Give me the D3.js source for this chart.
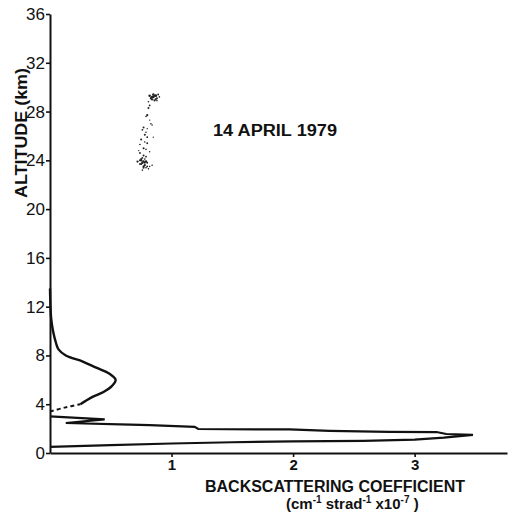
<!DOCTYPE html>
<html>
<head>
<meta charset="utf-8">
<script src="https://cdn.jsdelivr.net/npm/d3@7/dist/d3.min.js"></script>
<style>
  html, body { margin: 0; padding: 0; background: #fff; }
  svg text { font-family: "Liberation Sans", Arial, sans-serif; fill: #111; }
</style>
</head>
<body>
<svg id="chart" width="513" height="515"></svg>
<script>
// ---- data (backscattering coefficient, altitude km) ----
const yTicks = [0, 4, 8, 12, 16, 20, 24, 28, 32, 36];
const xTicks = [1, 2, 3];

// lower aerosol layer: continuous trace from ground, out to the tip and back with a zig-zag
const lowerCoef = [0.00, 0.50, 1.00, 1.50, 2.00, 2.58, 3.00, 3.24, 3.48, 3.26, 3.18, 2.79, 2.30, 1.97, 1.22, 1.19, 0.82, 0.66, 0.13, 0.45, 0.00];
const lowerAlt  = [0.50, 0.64, 0.78, 0.88, 0.95, 1.00, 1.10, 1.26, 1.48, 1.56, 1.72, 1.73, 1.82, 1.93, 1.97, 2.15, 2.28, 2.32, 2.46, 2.76, 3.00];

// dashed section
const dashCoef = [0.00, 0.12, 0.25];
const dashAlt  = [3.40, 3.72, 4.00];

// upper (tropospheric) layer profile
const upperCoef = [0.25, 0.35, 0.44, 0.51, 0.54, 0.49, 0.38, 0.27, 0.13, 0.07, 0.05, 0.025, 0.01, 0.004, 0.0];
const upperAlt  = [4.00, 4.60, 5.00, 5.50, 6.00, 6.50, 7.00, 7.50, 8.00, 8.50, 9.00, 10.0, 11.0, 12.0, 13.5];

// stratospheric scattered points
const dotCoef = [0.82,0.85,0.87,0.88,0.84,0.86,0.90,0.83,0.81,0.89,0.85,0.87,0.86,0.84,0.88,
                 0.82,0.81,0.80,0.79,0.82,0.84,0.77,0.76,0.79,0.78,0.80,0.85,0.75,0.78,0.80,
                 0.74,0.77,0.79,0.82,0.74,0.77,0.75,0.72,0.77,0.78,0.75,0.80,0.77,0.82,0.84,
                 0.74,0.78,0.76,0.81,0.79,0.73,0.80,0.83,0.76,0.78,0.79,0.75,0.77,0.80,0.76,0.74,0.79];
const dotAlt  = [29.3,29.4,29.3,29.1,29.0,28.9,29.2,29.1,28.8,29.4,29.2,29.0,29.3,29.2,28.9,
                 28.5,28.3,27.7,27.6,27.3,26.9,26.7,26.5,26.3,26.1,25.9,25.9,25.7,25.5,25.4,
                 25.3,25.0,24.9,24.7,24.6,24.4,24.0,23.9,23.9,23.8,23.7,23.5,23.4,23.5,23.6,
                 23.7,24.1,23.2,23.3,24.3,24.8,26.6,27.0,23.8,23.6,23.9,24.1,23.5,23.8,24.2,24.0,23.4];
const dotSize = [1.3,1.2,1.4,1.0,1.2,1.0,0.8,1.1,0.8,0.9,1.3,1.1,1.0,1.2,0.8,
                 0.9,1.0,1.1,0.8,0.7,0.8,1.0,0.9,0.8,1.0,0.9,0.7,1.0,0.8,0.9,
                 0.8,1.0,0.8,0.7,0.9,1.0,1.2,1.1,1.2,1.0,1.1,0.9,1.0,0.8,0.8,
                 0.9,0.8,0.8,0.8,0.9,0.7,0.7,0.8,1.2,1.1,1.2,1.0,1.1,0.9,0.9,1.0,0.8];

const title = "14 APRIL 1979";
const yLabel = "ALTITUDE (km)";
const xLabel1 = "BACKSCATTERING COEFFICIENT";

// ---- drawing ----
const svg = d3.select("#chart");
const x = d3.scaleLinear().domain([0, 3.76]).range([50, 507]);
const y = d3.scaleLinear().domain([0, 36]).range([453, 14]);
const ink = "#111";
const ff = "Liberation Sans, Arial, sans-serif";

// axes
const yAxis = d3.axisLeft(y).tickValues(yTicks).tickSize(4).tickSizeOuter(0).tickPadding(1).tickFormat(d3.format("d"));
const gy = svg.append("g").attr("transform", `translate(${x(0)},0)`).call(yAxis);
gy.select(".domain").attr("stroke", ink).attr("stroke-width", 2);
gy.selectAll(".tick line").attr("stroke", ink).attr("stroke-width", 1.6);
gy.selectAll(".tick text").attr("font-size", 17).attr("fill", ink).attr("font-family", ff);

const xAxis = d3.axisBottom(x).tickValues(xTicks).tickSize(4).tickSizeOuter(0).tickPadding(2).tickFormat(d3.format("d"));
const gx = svg.append("g").attr("transform", `translate(0,${y(0)})`).call(xAxis);
gx.select(".domain").attr("stroke", ink).attr("stroke-width", 2);
gx.selectAll(".tick line").attr("stroke", ink).attr("stroke-width", 1.6);
gx.selectAll(".tick text").attr("font-size", 15).attr("fill", ink).attr("font-family", ff).attr("font-weight", "bold");

// curves
const lower = lowerCoef.map((c, i) => [c, lowerAlt[i]]);
const dash = dashCoef.map((c, i) => [c, dashAlt[i]]);
const upper = upperCoef.map((c, i) => [c, upperAlt[i]]);

const lineLin = d3.line().x(d => x(d[0])).y(d => y(d[1]));
const lineSmooth = d3.line().x(d => x(d[0])).y(d => y(d[1])).curve(d3.curveCatmullRom.alpha(0.5));

svg.append("path").attr("d", lineLin(lower)).attr("fill", "none").attr("stroke", ink)
  .attr("stroke-width", 2.2).attr("stroke-linejoin", "miter").attr("stroke-miterlimit", 4);
svg.append("path").attr("d", lineSmooth(dash)).attr("fill", "none").attr("stroke", ink)
  .attr("stroke-width", 2).attr("stroke-dasharray", "4,3");
svg.append("path").attr("d", lineSmooth(upper)).attr("fill", "none").attr("stroke", ink)
  .attr("stroke-width", 2.4);

// scattered dots
svg.append("g").selectAll("circle").data(dotCoef.map((c, i) => [c, dotAlt[i], dotSize[i]])).join("circle")
  .attr("cx", d => x(d[0])).attr("cy", d => y(d[1])).attr("r", d => d[2]).attr("fill", "#222");

// texts
svg.append("text").attr("x", 213).attr("y", 136).attr("font-size", 16).attr("font-weight", "bold")
  .attr("textLength", 124).attr("lengthAdjust", "spacingAndGlyphs").text(title);

svg.append("text").attr("transform", "translate(27,133) rotate(-90)").attr("text-anchor", "middle")
  .attr("font-size", 17).attr("font-weight", "bold")
  .attr("textLength", 130).attr("lengthAdjust", "spacingAndGlyphs").text(yLabel);

svg.append("text").attr("x", 205).attr("y", 492).attr("font-size", 16).attr("font-weight", "bold")
  .attr("textLength", 260).attr("lengthAdjust", "spacingAndGlyphs").text(xLabel1);

const t2 = svg.append("text").attr("x", 286).attr("y", 509).attr("font-size", 15).attr("font-weight", "bold");
t2.append("tspan").text("(cm");
t2.append("tspan").attr("dy", -6).attr("font-size", 10).text("-1");
t2.append("tspan").attr("dy", 6).text(" strad");
t2.append("tspan").attr("dy", -6).attr("font-size", 10).text("-1");
t2.append("tspan").attr("dy", 6).text(" x10");
t2.append("tspan").attr("dy", -6).attr("font-size", 10).text("-7");
t2.append("tspan").attr("dy", 6).text(" )");
</script>
</body>
</html>
